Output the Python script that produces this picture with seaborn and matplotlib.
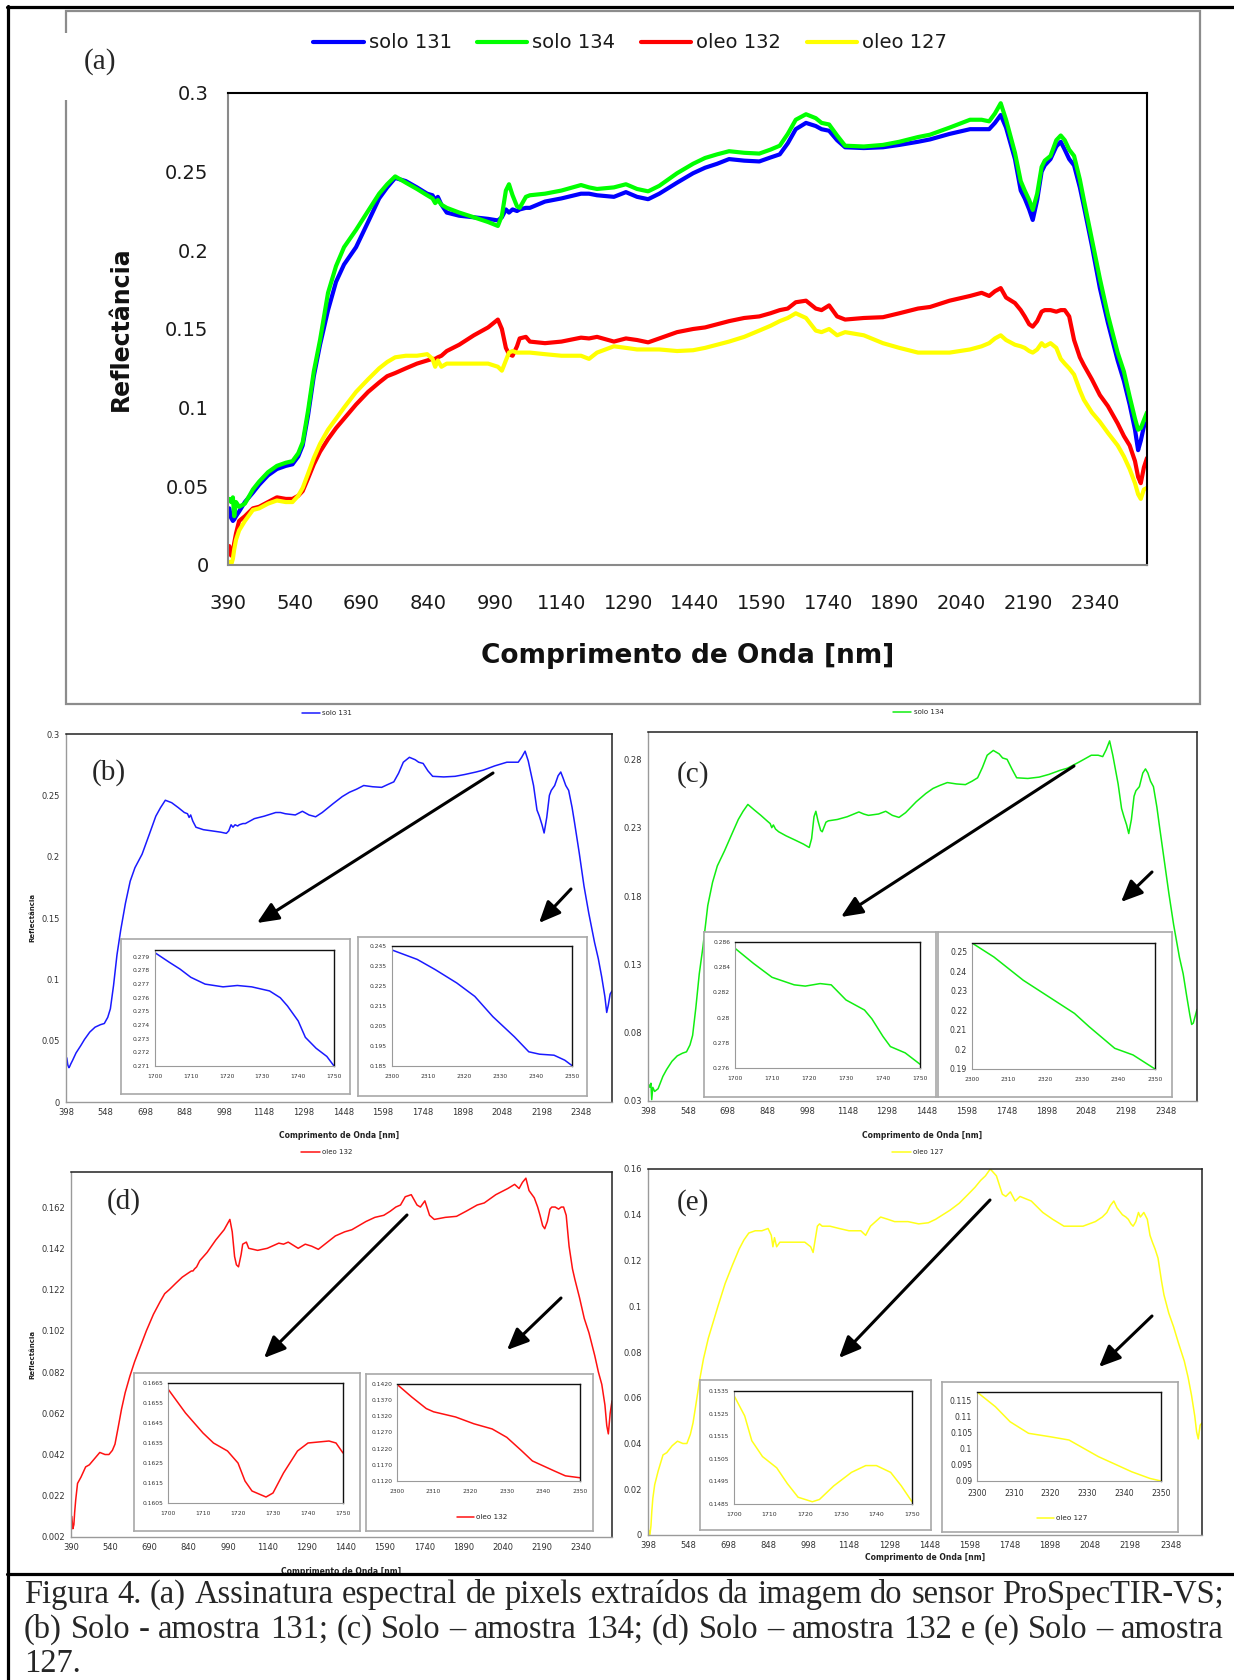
import matplotlib
matplotlib.use("Agg")
import matplotlib.pyplot as plt
import seaborn as sns
from matplotlib.patches import Rectangle, FancyArrowPatch
from matplotlib.lines import Line2D

# ---------------- data ----------------
wavelength = [393, 397, 401, 404, 408, 415, 428, 446, 460, 480, 500, 520, 535, 548, 558, 570, 583, 597,
              615, 633, 651, 678, 705, 730, 748, 766, 790, 815, 838, 850, 856, 862, 870, 882, 910, 943,
              975, 997, 1006, 1015, 1022, 1030, 1040, 1046, 1060, 1069, 1103, 1140, 1184, 1202, 1220,
              1258, 1285, 1310, 1335, 1360, 1400, 1436, 1463, 1490, 1517, 1551, 1585, 1610, 1631, 1649,
              1667, 1690, 1712, 1725, 1742, 1760, 1778, 1820, 1863, 1900, 1942, 1969, 2013, 2059, 2085,
              2102, 2115, 2128, 2140, 2160, 2173, 2182, 2192, 2200, 2210, 2220, 2227, 2240, 2253, 2263,
              2272, 2282, 2293, 2306, 2315, 2333, 2351, 2369, 2391, 2405, 2418, 2430, 2437, 2443, 2450, 2457]
solo_131 = [0.036, 0.030, 0.028, 0.029, 0.031, 0.034, 0.040, 0.046, 0.051, 0.057, 0.061, 0.063, 0.064, 0.069,
            0.076, 0.095, 0.120, 0.140, 0.162, 0.180, 0.191, 0.202, 0.218, 0.233, 0.240, 0.246, 0.244, 0.240,
            0.236, 0.235, 0.232, 0.234, 0.229, 0.224, 0.222, 0.221, 0.220, 0.219, 0.221, 0.226, 0.224, 0.226,
            0.225, 0.226, 0.227, 0.227, 0.231, 0.233, 0.236, 0.236, 0.235, 0.234, 0.237, 0.234, 0.2325, 0.236,
            0.243, 0.249, 0.2525, 0.255, 0.258, 0.257, 0.2565, 0.259, 0.261, 0.268, 0.277, 0.281, 0.279, 0.277,
            0.276, 0.270, 0.2655, 0.265, 0.2655, 0.267, 0.269, 0.2705, 0.274, 0.277, 0.277, 0.277, 0.281, 0.286,
            0.278, 0.258, 0.238, 0.233, 0.226, 0.2193, 0.232, 0.250, 0.254, 0.258, 0.266, 0.269, 0.264, 0.258,
            0.254, 0.240, 0.228, 0.203, 0.176, 0.154, 0.130, 0.117, 0.102, 0.086, 0.073, 0.079, 0.088, 0.0905]
solo_134 = [0.042, 0.040, 0.043, 0.031, 0.040, 0.037, 0.039, 0.048, 0.053, 0.059, 0.063, 0.065, 0.066, 0.071,
            0.078, 0.098, 0.123, 0.143, 0.173, 0.190, 0.202, 0.213, 0.225, 0.236, 0.242, 0.247, 0.243, 0.239,
            0.235, 0.233, 0.230, 0.232, 0.229, 0.227, 0.224, 0.221, 0.218, 0.2155, 0.222, 0.238, 0.242, 0.235,
            0.228, 0.227, 0.234, 0.235, 0.236, 0.238, 0.2415, 0.240, 0.239, 0.240, 0.242, 0.239, 0.2375, 0.241,
            0.249, 0.255, 0.2587, 0.261, 0.263, 0.262, 0.2615, 0.264, 0.2665, 0.274, 0.283, 0.2865, 0.284, 0.281,
            0.280, 0.273, 0.2665, 0.266, 0.267, 0.269, 0.272, 0.2735, 0.278, 0.283, 0.283, 0.282, 0.287, 0.2935,
            0.283, 0.262, 0.244, 0.238, 0.232, 0.2257, 0.236, 0.253, 0.257, 0.260, 0.270, 0.273, 0.270, 0.264,
            0.260, 0.245, 0.232, 0.207, 0.182, 0.159, 0.135, 0.123, 0.107, 0.093, 0.086, 0.087, 0.092, 0.097]
oleo_132 = [0.012, 0.006, 0.008, 0.014, 0.020, 0.028, 0.031, 0.036, 0.037, 0.040, 0.043, 0.042, 0.042, 0.044,
            0.047, 0.055, 0.064, 0.072, 0.080, 0.087, 0.093, 0.102, 0.110, 0.116, 0.120, 0.122, 0.125, 0.128,
            0.130, 0.131, 0.131, 0.132, 0.133, 0.136, 0.140, 0.146, 0.151, 0.156, 0.150, 0.138, 0.134, 0.133,
            0.139, 0.144, 0.145, 0.142, 0.141, 0.142, 0.1445, 0.144, 0.145, 0.142, 0.144, 0.143, 0.1415, 0.144,
            0.148, 0.150, 0.151, 0.153, 0.155, 0.157, 0.158, 0.160, 0.162, 0.163, 0.167, 0.168, 0.163, 0.162,
            0.165, 0.158, 0.156, 0.157, 0.1575, 0.160, 0.163, 0.164, 0.168, 0.171, 0.173, 0.171, 0.174, 0.176,
            0.170, 0.1665, 0.162, 0.158, 0.153, 0.1515, 0.155, 0.161, 0.162, 0.162, 0.161, 0.162, 0.162, 0.158,
            0.143, 0.132, 0.127, 0.118, 0.108, 0.101, 0.090, 0.082, 0.076, 0.066, 0.056, 0.052, 0.062, 0.068]
oleo_127 = [0.002, 0.000, 0.004, 0.010, 0.016, 0.022, 0.028, 0.035, 0.036, 0.039, 0.041, 0.040, 0.040, 0.044,
            0.049, 0.058, 0.068, 0.077, 0.086, 0.093, 0.100, 0.110, 0.118, 0.125, 0.129, 0.132, 0.133, 0.133,
            0.134, 0.131, 0.126, 0.130, 0.126, 0.128, 0.128, 0.128, 0.128, 0.126, 0.1235, 0.130, 0.135, 0.136,
            0.135, 0.135, 0.135, 0.135, 0.134, 0.133, 0.133, 0.131, 0.135, 0.139, 0.138, 0.137, 0.137, 0.137,
            0.136, 0.1365, 0.138, 0.140, 0.142, 0.145, 0.149, 0.152, 0.155, 0.157, 0.160, 0.157, 0.149, 0.148,
            0.150, 0.146, 0.148, 0.146, 0.141, 0.138, 0.135, 0.135, 0.135, 0.137, 0.139, 0.141, 0.144, 0.146,
            0.143, 0.140, 0.139, 0.138, 0.136, 0.135, 0.137, 0.141, 0.139, 0.141, 0.138, 0.131, 0.128, 0.125,
            0.121, 0.111, 0.105, 0.097, 0.091, 0.084, 0.076, 0.069, 0.061, 0.052, 0.045, 0.042, 0.048, 0.049]
series_names = ["solo 131", "solo 134", "oleo 132", "oleo 127"]

xtick_values = [390, 540, 690, 840, 990, 1140, 1290, 1440, 1590, 1740, 1890, 2040, 2190, 2340]
xtick_labels_390 = ["390", "540", "690", "840", "990", "1140", "1290", "1440", "1590", "1740",
                    "1890", "2040", "2190", "2340"]
xtick_labels_398 = ["398", "548", "698", "848", "998", "1148", "1298", "1448", "1598", "1748",
                    "1898", "2048", "2198", "2348"]
ytick_a = [0, 0.05, 0.1, 0.15, 0.2, 0.25, 0.3]
ytick_a_labels = ["0", "0.05", "0.1", "0.15", "0.2", "0.25", "0.3"]
ytick_c = [0.03, 0.08, 0.13, 0.18, 0.23, 0.28]
ytick_c_labels = ["0.03", "0.08", "0.13", "0.18", "0.23", "0.28"]
ytick_d = [0.002, 0.022, 0.042, 0.062, 0.082, 0.102, 0.122, 0.142, 0.162]
ytick_d_labels = ["0.002", "0.022", "0.042", "0.062", "0.082", "0.102", "0.122", "0.142", "0.162"]
ytick_e = [0, 0.02, 0.04, 0.06, 0.08, 0.1, 0.12, 0.14, 0.16]
ytick_e_labels = ["0", "0.02", "0.04", "0.06", "0.08", "0.1", "0.12", "0.14", "0.16"]

# zoomed insets
zoom1_ticks = [1700, 1710, 1720, 1730, 1740, 1750]
zoom2_ticks = [2300, 2310, 2320, 2330, 2340, 2350]
b1_x = [1700, 1704, 1707, 1710, 1714, 1719, 1723, 1727, 1732, 1735, 1737, 1740, 1742, 1745, 1748, 1750]
b1_y = [.2793, .2786, .2781, .2775, .2770, .2768, .2769, .2768, .2765, .2760, .2754, .2743, .2731, .2723, .2717, .2710]
b2_x = [2300, 2307, 2312, 2318, 2323, 2328, 2334, 2338, 2341, 2345, 2348, 2350]
b2_y = [.2430, .2383, .2332, .2265, .2198, .2097, .1996, .1921, .1909, .1904, .1879, .1852]
c1_x = [1700, 1705, 1710, 1716, 1719, 1723, 1726, 1730, 1735, 1737, 1740, 1742, 1746, 1750]
c1_y = [.2855, .2843, .2832, .2826, .2825, .2827, .2826, .2814, .2806, .2799, .2785, .2777, .2772, .2763]
c2_x = [2300, 2306, 2314, 2321, 2328, 2332, 2339, 2344, 2350]
c2_y = [.2546, .2474, .2355, .2270, .2185, .2117, .2006, .1972, .1900]
d1_x = [1700, 1705, 1710, 1713, 1717, 1720, 1722, 1724, 1728, 1730, 1733, 1737, 1740, 1746, 1748, 1750]
d1_y = [.1662, .1650, .1640, .1635, .1631, .1625, .1616, .1611, .1608, .1610, .1620, .1631, .1635, .1636, .1635, .1630]
d2_x = [2300, 2304, 2308, 2310, 2316, 2321, 2326, 2330, 2334, 2337, 2343, 2346, 2350]
d2_y = [.1419, .1380, .1344, .1334, .1318, .1297, .1281, .1255, .1214, .1182, .1151, .1136, .1130]
e1_x = [1700, 1703, 1705, 1708, 1712, 1715, 1718, 1722, 1724, 1728, 1733, 1737, 1740, 1744, 1747, 1750]
e1_y = [.1533, .1524, .1513, .1506, .1501, .1494, .1488, .1486, .1487, .1493, .1499, .1502, .1502, .1499, .1493, .1486]
e2_x = [2300, 2305, 2309, 2314, 2320, 2325, 2329, 2333, 2338, 2342, 2347, 2350]
e2_y = [.1178, .1132, .1085, .1049, .1038, .1028, .1002, .0976, .0950, .0929, .0908, .0900]

b1_yt = [0.271, 0.272, 0.273, 0.274, 0.275, 0.276, 0.277, 0.278, 0.279]
b1_yl = ["0.271", "0.272", "0.273", "0.274", "0.275", "0.276", "0.277", "0.278", "0.279"]
b2_yt = [0.185, 0.195, 0.205, 0.215, 0.225, 0.235, 0.245]
b2_yl = ["0.185", "0.195", "0.205", "0.215", "0.225", "0.235", "0.245"]
c1_yt = [0.276, 0.278, 0.28, 0.282, 0.284, 0.286]
c1_yl = ["0.276", "0.278", "0.28", "0.282", "0.284", "0.286"]
c2_yt = [0.19, 0.2, 0.21, 0.22, 0.23, 0.24, 0.25]
c2_yl = ["0.19", "0.2", "0.21", "0.22", "0.23", "0.24", "0.25"]
d1_yt = [0.1605, 0.1615, 0.1625, 0.1635, 0.1645, 0.1655, 0.1665]
d1_yl = ["0.1605", "0.1615", "0.1625", "0.1635", "0.1645", "0.1655", "0.1665"]
d2_yt = [0.112, 0.117, 0.122, 0.127, 0.132, 0.137, 0.142]
d2_yl = ["0.1120", "0.1170", "0.1220", "0.1270", "0.1320", "0.1370", "0.1420"]
e1_yt = [0.1485, 0.1495, 0.1505, 0.1515, 0.1525, 0.1535]
e1_yl = ["0.1485", "0.1495", "0.1505", "0.1515", "0.1525", "0.1535"]
e2_yt = [0.09, 0.095, 0.1, 0.105, 0.11, 0.115]
e2_yl = ["0.09", "0.095", "0.1", "0.105", "0.11", "0.115"]

caption_lines = [
    "Figura 4. (a) Assinatura espectral de pixels extraídos da imagem do sensor ProSpecTIR-VS;",
    "(b) Solo - amostra 131; (c) Solo – amostra 134; (d) Solo – amostra 132 e (e) Solo – amostra",
    "127.",
]

# ---------------- setup ----------------
sns.set_style("white")
plt.rcParams["font.family"] = ["DejaVu Sans"]

W, H = 1234, 1680
fig = plt.figure(figsize=(W / 100, H / 100), dpi=100)
fig.patch.set_facecolor("white")


def fx(x):
    return x / W


def fy(y):
    return 1 - y / H


def add_ax(x0, y0, x1, y1):
    return fig.add_axes([x0 / W, 1 - y1 / H, (x1 - x0) / W, (y1 - y0) / H])


def frame(ax, lw_dark=1.2, lw_light=1.2, dark="#000000", light="#8a8a8a"):
    for s in ["top", "right"]:
        ax.spines[s].set_color(dark)
        ax.spines[s].set_linewidth(lw_dark)
    for s in ["left", "bottom"]:
        ax.spines[s].set_color(light)
        ax.spines[s].set_linewidth(lw_light)


GRAY = "#8a8a8a"
TXT = "#1a1a1a"

# ---------------- panel (a) ----------------
ax = add_ax(228, 93, 1147, 565)
main_colors = ["#0000ff", "#00ff00", "#ff0000", "#ffff00"]
for name, vals, col in zip(series_names, [solo_131, solo_134, oleo_132, oleo_127], main_colors):
    sns.lineplot(x=wavelength, y=vals, ax=ax, color=col, linewidth=3.0, label=name, sort=False)
ax.set_xlim(390, 2457)
ax.set_ylim(0, 0.3)
ax.set_xticks(xtick_values)
ax.set_xticklabels(xtick_labels_390)
ax.set_yticks(ytick_a)
ax.set_yticklabels(ytick_a_labels)
frame(ax, 1.5, 1.5)
ax.tick_params(axis="x", direction="in", length=7, width=1, color=GRAY, labelsize=14, labelcolor=TXT, pad=21)
ax.tick_params(axis="y", direction="in", length=7, width=1, color=GRAY, labelsize=14, labelcolor=TXT, pad=14)
ax.set_xlabel("Comprimento de Onda [nm]", fontsize=19, fontweight="bold", color="#111")
ax.xaxis.set_label_coords(0.5, -(656 - 565) / 472)
ax.xaxis.label.set_va("center")
ax.set_ylabel("Reflectância", fontsize=17, fontweight="bold", color="#111")
ax.yaxis.set_label_coords((121 - 228) / 919, 0.5)
ax.yaxis.label.set_va("center")
ax.legend(loc="center", bbox_to_anchor=(fx(630), fy(43)), bbox_transform=fig.transFigure, ncol=4,
          frameon=False, fontsize=14, handlelength=2.6, handletextpad=0.26, columnspacing=1.3,
          borderpad=0, labelcolor=TXT)

fig.add_artist(Rectangle((fx(66), fy(704)), (1200 - 66) / W, (704 - 11) / H, transform=fig.transFigure,
                         fill=False, edgecolor="#8c8c8c", lw=1.6, zorder=1))
fig.add_artist(Rectangle((fx(58), fy(100)), 14 / W, 67 / H, transform=fig.transFigure,
                         facecolor="white", edgecolor="none", zorder=2))
fig.text(fx(100), fy(62), "(a)", fontsize=21, family="Liberation Serif", ha="center", va="center")

# ---------------- sub panels ----------------
sub_colors = ["#1a1aff", "#11ee11", "#ff1111", "#ffff1a"]
panels = [
    dict(letter="(b)", series=solo_131, name="solo 131", color=sub_colors[0], rect=(66, 734, 612, 1102),
         ylim=(0, 0.3), yt=ytick_a, yl=ytick_a_labels, xl=xtick_labels_398, ylabel=True, xlab_y=1135,
         leg=(327, 713), let=(109, 773),
         insets=[dict(box=(121, 939, 350, 1094), ax=(155, 950, 334, 1066), x=b1_x, y=b1_y, xt=zoom1_ticks,
                      yt=b1_yt, yl=b1_yl, ylim=(0.271, 0.2795), fs=4.3, xfs=4.3, leg=None),
                 dict(box=(358, 937, 587, 1096), ax=(392, 946, 572, 1066), x=b2_x, y=b2_y, xt=zoom2_ticks,
                      yt=b2_yt, yl=b2_yl, ylim=(0.185, 0.245), fs=4.3, xfs=4.3, leg=None)],
         arrows=[((493, 773), (257, 923)), ((571, 889), (539, 923))]),
    dict(letter="(c)", series=solo_134, name="solo 134", color=sub_colors[1], rect=(648, 732, 1197, 1101),
         ylim=(0.03, 0.30), yt=ytick_c, yl=ytick_c_labels, xl=xtick_labels_398, ylabel=False, xlab_y=1135,
         leg=(918, 712), let=(693, 775),
         insets=[dict(box=(704, 932, 936, 1097), ax=(735, 942, 920, 1068), x=c1_x, y=c1_y, xt=zoom1_ticks,
                      yt=c1_yt, yl=c1_yl, ylim=(0.276, 0.286), fs=4.3, xfs=4.3, leg=None),
                 dict(box=(938, 932, 1172, 1097), ax=(972, 943, 1155, 1069), x=c2_x, y=c2_y, xt=zoom2_ticks,
                      yt=c2_yt, yl=c2_yl, ylim=(0.19, 0.2546), fs=5.6, xfs=4.3, leg=None)],
         arrows=[((1074, 766), (841, 917)), ((1152, 872), (1121, 902))]),
    dict(letter="(d)", series=oleo_132, name="oleo 132", color=sub_colors[2], rect=(71, 1172, 612, 1537),
         ylim=(0.002, 0.179), yt=ytick_d, yl=ytick_d_labels, xl=xtick_labels_390, ylabel=True, xlab_y=1571,
         leg=(327, 1152), let=(124, 1202),
         insets=[dict(box=(134, 1373, 360, 1531), ax=(168, 1383, 343, 1503), x=d1_x, y=d1_y, xt=zoom1_ticks,
                      yt=d1_yt, yl=d1_yl, ylim=(0.1605, 0.1665), fs=4.3, xfs=4.3, leg=None),
                 dict(box=(366, 1374, 593, 1531), ax=(397, 1384, 580, 1481), x=d2_x, y=d2_y, xt=zoom2_ticks,
                      yt=d2_yt, yl=d2_yl, ylim=(0.112, 0.142), fs=4.3, xfs=4.3, leg=(482, 1517))],
         arrows=[((407, 1215), (264, 1358)), ((561, 1298), (507, 1350))]),
    dict(letter="(e)", series=oleo_127, name="oleo 127", color=sub_colors[3], rect=(648, 1169, 1202, 1535),
         ylim=(0, 0.16), yt=ytick_e, yl=ytick_e_labels, xl=xtick_labels_398, ylabel=False, xlab_y=1557,
         leg=(918, 1152), let=(693, 1203),
         insets=[dict(box=(700, 1380, 931, 1530), ax=(734, 1391, 912, 1504), x=e1_x, y=e1_y, xt=zoom1_ticks,
                      yt=e1_yt, yl=e1_yl, ylim=(0.1485, 0.1535), fs=4.2, xfs=4.5, leg=None),
                 dict(box=(942, 1382, 1178, 1532), ax=(977, 1392, 1161, 1481), x=e2_x, y=e2_y, xt=zoom2_ticks,
                      yt=e2_yt, yl=e2_yl, ylim=(0.09, 0.1178), fs=5.6, xfs=5.6, leg=(1062, 1518))],
         arrows=[((990, 1200), (839, 1358)), ((1152, 1316), (1099, 1367))]),
]

for p in panels:
    x0, y0, x1, y1 = p["rect"]
    sax = add_ax(x0, y0, x1, y1)
    sns.lineplot(x=wavelength, y=p["series"], ax=sax, color=p["color"], linewidth=1.1, label=p["name"], sort=False)
    sax.set_xlim(390, 2457)
    sax.set_ylim(*p["ylim"])
    sax.set_xticks(xtick_values)
    sax.set_xticklabels(p["xl"])
    sax.set_yticks(p["yt"])
    sax.set_yticklabels(p["yl"])
    frame(sax, 1.1, 1.0, dark="#222222", light="#9a9a9a")
    sax.tick_params(direction="out", length=2.5, width=0.6, color=GRAY, labelsize=6, labelcolor="#333", pad=2)
    sax.set_xlabel("Comprimento de Onda [nm]", fontsize=5.5, fontweight="bold", color="#222")
    sax.xaxis.set_label_coords(0.5, -(p["xlab_y"] - y1) / (y1 - y0))
    sax.xaxis.label.set_va("center")
    if p["ylabel"]:
        sax.set_ylabel("Reflectância", fontsize=5, fontweight="bold", color="#222")
        sax.yaxis.set_label_coords((32 - x0) / (x1 - x0), 0.5)
        sax.yaxis.label.set_va("center")
    sax.legend(loc="center", bbox_to_anchor=(fx(p["leg"][0]), fy(p["leg"][1])), bbox_transform=fig.transFigure,
               frameon=False, fontsize=5, handlelength=2.7, handletextpad=0.3, borderpad=0)
    fig.text(fx(p["let"][0]), fy(p["let"][1]), p["letter"], fontsize=21, family="Liberation Serif",
             ha="center", va="center", zorder=4)

    for ins in p["insets"]:
        bx = add_ax(*ins["box"])
        bx.set_xticks([])
        bx.set_yticks([])
        for s in bx.spines.values():
            s.set_color("#a8a8a8")
            s.set_linewidth(1.2)
        bx.set_facecolor("white")
        bx.set_zorder(1)
        ix = add_ax(*ins["ax"])
        ix.set_zorder(2)
        ix.set_facecolor("white")
        if ins["leg"] is not None:
            sns.lineplot(x=ins["x"], y=ins["y"], ax=ix, color=p["color"], linewidth=1.1, label=p["name"])
            ix.legend(loc="center", bbox_to_anchor=(fx(ins["leg"][0]), fy(ins["leg"][1])),
                      bbox_transform=fig.transFigure, frameon=False, fontsize=5.2, handlelength=2.4,
                      handletextpad=0.2, borderpad=0)
        else:
            sns.lineplot(x=ins["x"], y=ins["y"], ax=ix, color=p["color"], linewidth=1.1)
        ix.set_xlim(ins["xt"][0], ins["xt"][-1])
        ix.set_ylim(*ins["ylim"])
        ix.set_xticks(ins["xt"])
        ix.set_xticklabels([str(v) for v in ins["xt"]])
        ix.set_yticks(ins["yt"])
        ix.set_yticklabels(ins["yl"])
        frame(ix, 1.0, 0.8, dark="#111111", light="#9a9a9a")
        ix.tick_params(direction="out", length=2, width=0.5, color=GRAY, labelcolor="#333", pad=1.5)
        ix.tick_params(axis="y", labelsize=ins["fs"])
        ix.tick_params(axis="x", labelsize=ins["xfs"], pad=4)

    for (sx, sy), (ex, ey) in p["arrows"]:
        fig.add_artist(FancyArrowPatch((fx(sx), fy(sy)), (fx(ex), fy(ey)), transform=fig.transFigure,
                                       arrowstyle="-|>,head_length=0.5,head_width=0.22", mutation_scale=26,
                                       lw=2.2, color="black", shrinkA=0, shrinkB=0, zorder=5))

# ---------------- outer frame & caption ----------------
fig.add_artist(Rectangle((fx(10), 0), 1, (H - 1575) / H, transform=fig.transFigure,
                         facecolor="white", edgecolor="none", zorder=8))
fig.add_artist(Line2D([fx(8), fx(8)], [fy(6), 0], transform=fig.transFigure, color="black", lw=2.3, zorder=9))
fig.add_artist(Line2D([fx(7), 1], [fy(7), fy(7)], transform=fig.transFigure, color="black", lw=2.3, zorder=9))
fig.add_artist(Line2D([fx(7), 1], [fy(1574), fy(1574)], transform=fig.transFigure, color="black", lw=2.3,
                      zorder=9))

renderer = fig.canvas.get_renderer()
cap_left, cap_right = 24, 1224
probe = fig.text(0, 0, caption_lines[0], family="Liberation Serif", fontsize=24)
w0 = probe.get_window_extent(renderer).width
probe.remove()
cap_fs = min(24.5, 24 * (cap_right - cap_left) / w0)
baselines = [1603, 1638, 1672]


def justify(line, y):
    words = line.split(" ")
    objs = [fig.text(0, fy(y), wd, family="Liberation Serif", fontsize=cap_fs, ha="left", va="baseline",
                     zorder=10) for wd in words]
    widths = [o.get_window_extent(renderer).width for o in objs]
    gap = (cap_right - cap_left - sum(widths)) / (len(words) - 1)
    x = cap_left
    for o, wd in zip(objs, widths):
        o.set_x(fx(x))
        x += wd + gap


justify(caption_lines[0], baselines[0])
justify(caption_lines[1], baselines[1])
fig.text(fx(cap_left), fy(baselines[2]), caption_lines[2], family="Liberation Serif", fontsize=cap_fs,
         ha="left", va="baseline", zorder=10)

fig.savefig("out.png", dpi=100, facecolor="white")
